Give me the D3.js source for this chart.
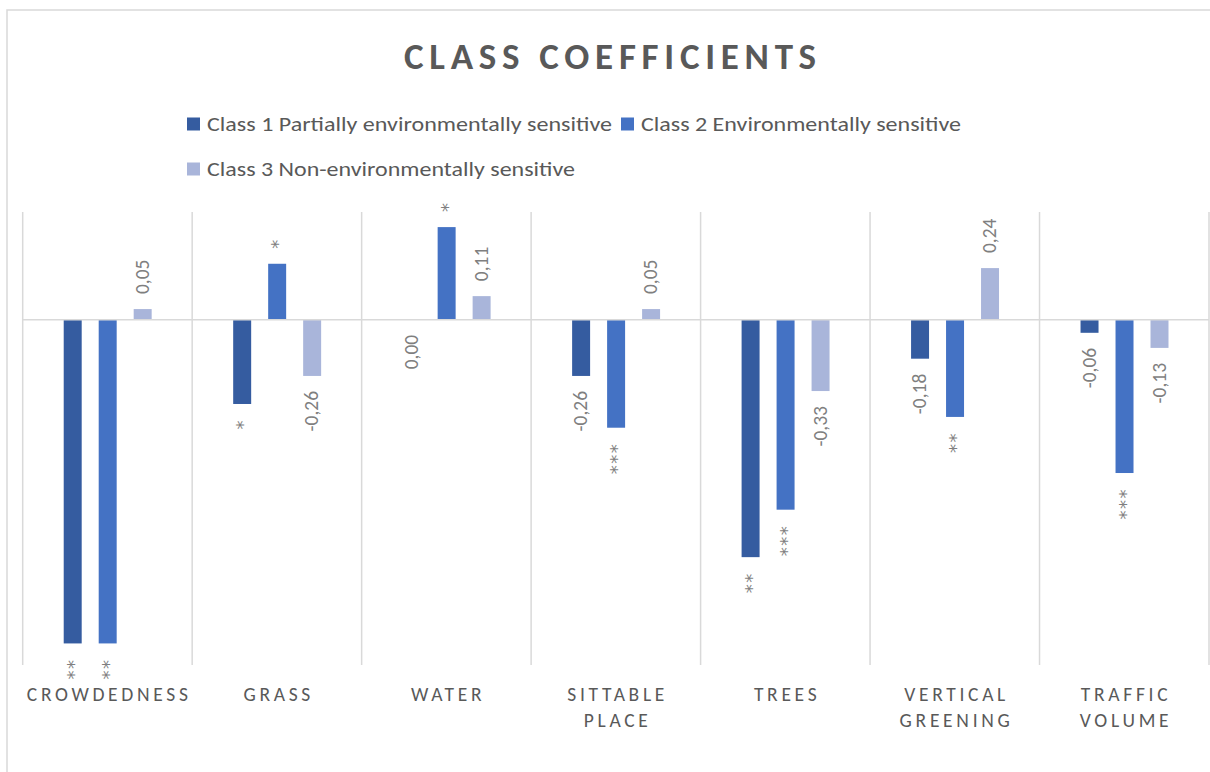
<!DOCTYPE html>
<html>
<head>
<meta charset="utf-8">
<script src="https://cdn.jsdelivr.net/npm/d3@7"></script>
<style>
  html, body { margin: 0; padding: 0; background: #fff; }
  svg { display: block; }
</style>
</head>
<body>
<svg id="chart" width="1210" height="772"></svg>
<script>
// ---- data ----
const categories = ["CROWDEDNESS", "GRASS", "WATER", "SITTABLE PLACE", "TREES", "VERTICAL GREENING", "TRAFFIC VOLUME"];
const seriesNames = ["Class 1 Partially environmentally sensitive", "Class 2 Environmentally sensitive", "Class 3 Non-environmentally sensitive"];
const class1 = [-1.50, -0.39, 0.00, -0.26, -1.10, -0.18, -0.06];
const class2 = [-1.50, 0.26, 0.43, -0.50, -0.88, -0.45, -0.71];
const class3 = [0.05, -0.26, 0.11, 0.05, -0.33, 0.24, -0.13];
const sig1 = ["**", "*", "", "", "**", "", ""];
const sig2 = ["**", "*", "*", "***", "***", "**", "***"];
const sig3 = ["", "", "", "", "", "", ""];
const colors = ["#355ca0", "#4472c4", "#a9b5da"];
const yDomain = [-1.6, 0.5];

const seriesValues = [class1, class2, class3];
const seriesSig = [sig1, sig2, sig3];

const FONT = "Carlito, Calibri, Lato, 'Open Sans', sans-serif";
const svg = d3.select("#chart");

// chart border
svg.append("rect")
  .attr("x", 7).attr("y", 10).attr("width", 1220).attr("height", 800)
  .attr("fill", "none").attr("stroke", "#d9d9d9").attr("stroke-width", 1.5);

// title
svg.append("text")
  .attr("x", 610).attr("y", 68.5)
  .attr("text-anchor", "middle")
  .attr("font-family", FONT).attr("font-weight", "bold").attr("font-size", 37)
  .attr("fill", "#595959")
  .attr("textLength", 412).attr("lengthAdjust", "spacing")
  .text("CLASS COEFFICIENTS");

// legend
const legendPos = [[187, 124], [621, 124], [187, 169]];
const legendW = [405, 320, 368];
seriesNames.forEach((name, i) => {
  const g = svg.append("g").attr("transform", `translate(${legendPos[i][0]},${legendPos[i][1]})`);
  g.append("rect").attr("x", 0).attr("y", -6.5).attr("width", 13).attr("height", 13).attr("fill", colors[i]);
  g.append("text").attr("x", 20).attr("y", 7)
    .attr("font-family", FONT).attr("font-size", 19.5).attr("fill", "#595959")
    .attr("textLength", legendW[i]).attr("lengthAdjust", "spacingAndGlyphs")
    .text(name);
});

// scales
const x = d3.scaleBand().domain(categories).range([22.7, 1209]).padding(0);
const cw = x.bandwidth();
const x1 = d3.scaleBand().domain([0, 1, 2]).range([cw * 0.242, cw * 0.761]).paddingInner(0.486).paddingOuter(0);
const y = d3.scaleLinear().domain(yDomain).range([665, 212]);

// vertical category separators
const bounds = categories.map(c => x(c)).concat([x.range()[1]]);
svg.append("g").selectAll("line").data(bounds).join("line")
  .attr("x1", d => d).attr("x2", d => d)
  .attr("y1", y(yDomain[1])).attr("y2", y(yDomain[0]))
  .attr("stroke", "#d9d9d9").attr("stroke-width", 1.5);

// bars
const fmt = v => v.toFixed(2).replace(".", ",");
seriesValues.forEach((vals, si) => {
  const g = svg.append("g");
  g.selectAll("rect").data(vals).join("rect")
    .attr("x", (d, i) => x(categories[i]) + x1(si))
    .attr("width", x1.bandwidth())
    .attr("y", d => y(Math.max(0, d)))
    .attr("height", d => Math.abs(y(d) - y(0)))
    .attr("fill", colors[si]);
});

// zero line
svg.append("line")
  .attr("x1", x.range()[0]).attr("x2", x.range()[1])
  .attr("y1", y(0)).attr("y2", y(0))
  .attr("stroke", "#d9d9d9").attr("stroke-width", 1.5);

// data labels
seriesValues.forEach((vals, si) => {
  const g = svg.append("g");
  vals.forEach((v, i) => {
    const isSig = seriesSig[si][i] !== "";
    const label = isSig ? seriesSig[si][i] : fmt(v);
    const cx = x(categories[i]) + x1(si) + x1.bandwidth() / 2;
    const pos = v > 0;
    const yy = pos ? y(v) - 15 : y(v) + 15;
    const t = g.append("text")
      .attr("transform", `translate(${cx},${yy}) rotate(-90)`)
      .attr("text-anchor", pos ? "start" : "end")
      .attr("dy", isSig ? "0.4em" : "0.32em")
      .attr("font-family", isSig ? "'DejaVu Sans', sans-serif" : FONT)
      .attr("font-size", isSig ? 18 : 19.5)
      .attr("fill", "#7f7f7f")
      .text(label);
    if (isSig) t.style("letter-spacing", "1.5px");
  });
});

// category labels
const catG = svg.append("g");
categories.forEach(c => {
  const cx = x(c) + cw / 2;
  const t = catG.append("text")
    .attr("x", cx).attr("y", 701)
    .attr("text-anchor", "middle")
    .attr("font-family", FONT).attr("font-size", 19.5).attr("fill", "#595959")
    .style("letter-spacing", "3.7px");
  t.text(c);
  if (t.node().getComputedTextLength() > cw - 4 && c.includes(" ")) {
    const words = c.split(" ");
    t.text(null);
    words.forEach((w, k) => {
      t.append("tspan").attr("x", cx + 1.8).attr("y", 701 + k * 26).text(w);
    });
  } else {
    t.attr("x", cx + 1.8);
  }
});
</script>
</body>
</html>
